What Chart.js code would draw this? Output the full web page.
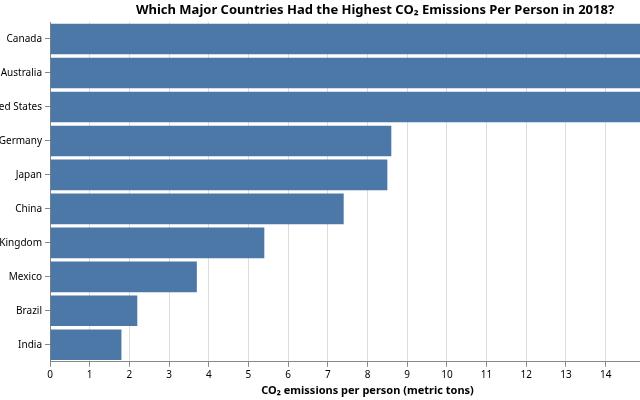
<!DOCTYPE html>
<html>
<head>
<meta charset="utf-8">
<script src="https://cdn.jsdelivr.net/npm/chart.js@4"></script>
<style>
  body { margin: 0; width: 640px; height: 400px; overflow: hidden; background: #fff; }
  canvas { display: block; }
</style>
</head>
<body>
<canvas id="chart" width="750" height="400"></canvas>
<script>
const countries = [
  "Canada",
  "Australia",
  "United States",
  "Germany",
  "Japan",
  "China",
  "United Kingdom",
  "Mexico",
  "Brazil",
  "India",
];
const emissions = [15.6, 15.5, 15.2, 8.6, 8.5, 7.4, 5.4, 3.7, 2.2, 1.8];
const xTicks = [0, 1, 2, 3, 4, 5, 6, 7, 8, 9, 10, 11, 12, 13, 14, 15, 16];
const chartTitle = "Which Major Countries Had the Highest CO₂ Emissions Per Person in 2018?";

const font = "'Noto Sans', 'Open Sans', sans-serif";
const ctx = document.getElementById("chart").getContext("2d");

// title is centred on the full (uncropped) plot, so draw it by hand
const titlePlugin = {
  id: "offsetTitle",
  afterDraw(chart) {
    const c = chart.ctx;
    c.save();
    c.font = "bold 13px " + font;
    c.fillStyle = "#000";
    c.textAlign = "center";
    c.textBaseline = "middle";
    c.fillText(chartTitle, 375, 10);
    c.restore();
  },
};

const chart = new Chart(ctx, {
  type: "bar",
  data: {
    labels: countries,
    datasets: [
      {
        label: "CO₂ per person",
        data: emissions,
        backgroundColor: "#4c78a8",
        barPercentage: 0.9,
        categoryPercentage: 1,
      },
    ],
  },
  options: {
    indexAxis: "y",
    responsive: false,
    animation: false,
    devicePixelRatio: 1,
    layout: { padding: { left: 0, right: 65, top: 22, bottom: 0 } },
    scales: {
      x: {
        min: xTicks[0],
        max: xTicks[xTicks.length - 1],
        afterBuildTicks: (scale) => {
          scale.ticks = xTicks.map((v) => ({ value: v }));
        },
        grid: { color: "#ddd", tickColor: "#888", tickLength: 5 },
        border: { color: "#888" },
        ticks: {
          color: "#000",
          padding: 2,
          maxRotation: 0,
          font: { family: font, size: 10, lineHeight: 1.2 },
        },
        title: {
          display: true,
          text: "CO₂ emissions per person (metric tons)",
          color: "#000",
          padding: { top: 1, bottom: 3 },
          font: { family: font, size: 11, weight: "bold", lineHeight: 1.2 },
        },
      },
      y: {
        afterFit: (scale) => {
          scale.width = 50;
        },
        grid: {
          offset: false,
          drawOnChartArea: false,
          tickColor: "#888",
          tickLength: 5,
        },
        border: { color: "#888" },
        ticks: {
          color: "#000",
          padding: 3,
          font: { family: font, size: 10 },
        },
      },
    },
    plugins: {
      legend: { display: false },
      tooltip: { enabled: false },
      title: { display: false },
    },
  },
  plugins: [titlePlugin],
});
</script>
</body>
</html>
